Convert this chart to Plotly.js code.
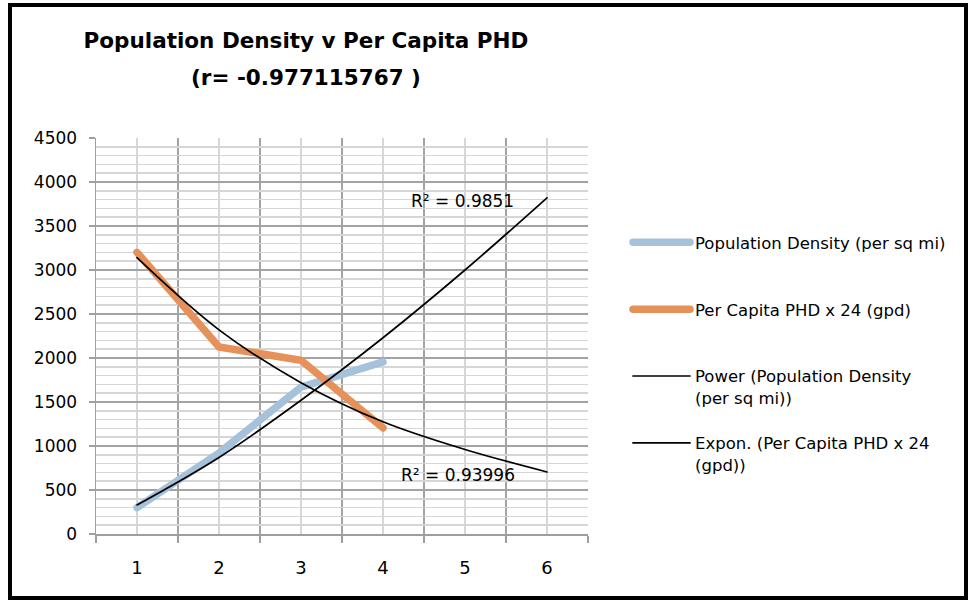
<!DOCTYPE html>
<html>
<head>
<meta charset="utf-8">
<script src="https://cdn.plot.ly/plotly-3.0.1.min.js"></script>
<style>
  html, body { margin: 0; padding: 0; background: #ffffff; }
  #chart { width: 968px; height: 600px; }
  #chart .scatterlayer .js-line, #chart .legendlines path { stroke-linecap: round; }
</style>
</head>
<body>
<div id="chart"></div>
<script>
// ---- Data ----
const categories = [1, 2, 3, 4, 5, 6];
const categoryLabels = ["1", "2", "3", "4", "5", "6"];

const popDensityX = [1, 2, 3, 4];
const popDensity = [300, 920, 1670, 1955];          // Population Density (per sq mi)

const perCapitaX = [1, 2, 3, 4];
const perCapitaPHD = [3200, 2125, 1975, 1205];      // Per Capita PHD x 24 (gpd)

const powerTrend = [330, 870, 1520, 2230, 3000, 3820];   // Power trendline as drawn
const exponTrend = [3140, 2320, 1720, 1275, 960, 705];   // Expon. trendline as drawn

const seriesNames = [
  "Population Density (per sq mi)<br> ",
  "Per Capita PHD x 24 (gpd)<br> ",
  "Power (Population Density<br>(per sq mi))",
  "Expon. (Per Capita PHD x 24<br>(gpd))"
];
const r2Labels = ["R² = 0.9851", "R² = 0.93996"];
const titleLine1 = "Population Density v Per Capita PHD";
const titleLine2 = "(r= -0.977115767 )";

const FONT = "DejaVu Sans, Verdana, sans-serif";

const traces = [
  { x: popDensityX, y: popDensity, name: seriesNames[0], legendgroup: "a",
    type: "scatter", mode: "lines",
    line: { color: "#a5c2da", width: 7.5 } },
  { x: perCapitaX, y: perCapitaPHD, name: seriesNames[1], legendgroup: "b",
    type: "scatter", mode: "lines",
    line: { color: "#e69159", width: 7.5 } },
  { x: categories, y: powerTrend, name: seriesNames[2], legendgroup: "c",
    type: "scatter", mode: "lines",
    line: { color: "#000000", width: 1.7, shape: "spline" } },
  { x: categories, y: exponTrend, name: seriesNames[3], legendgroup: "d",
    type: "scatter", mode: "lines",
    line: { color: "#000000", width: 1.7, shape: "spline" } }
];

// plot area in pixels: x 96..588, y 138..534
const layout = {
  width: 968, height: 600,
  margin: { l: 96, r: 380, t: 138, b: 66 },
  paper_bgcolor: "#ffffff", plot_bgcolor: "#ffffff",
  font: { family: FONT, size: 16, color: "#000000" },
  showlegend: true,
  title: {
    text: "<b>" + titleLine1 + "</b>",
    font: { family: FONT, size: 21.5, color: "#000000" },
    xref: "container", x: 306 / 968, xanchor: "center",
    yref: "container", y: 1 - 40 / 600, yanchor: "middle"
  },
  xaxis: {
    type: "linear",
    range: [0.5, 6.5],
    tickmode: "array", tickvals: categories, ticktext: categoryLabels,
    ticks: "",
    showgrid: true, gridcolor: "#d6d6d6", gridwidth: 1.5,
    minor: { tick0: 0.5, dtick: 1, ticks: "outside", ticklen: 7, tickcolor: "#9e9e9e", tickwidth: 1.5,
             showgrid: true, gridcolor: "#a3a3a3", gridwidth: 1.5 },
    showline: true, linecolor: "#9e9e9e", linewidth: 1.5,
    zeroline: false,
    tickfont: { family: FONT, size: 18, color: "#000000" },
    ticklabelstandoff: 17
  },
  yaxis: {
    range: [0, 4500],
    tick0: 0, dtick: 500,
    ticks: "outside", ticklen: 6, tickcolor: "#9e9e9e", tickwidth: 1.5,
    showgrid: true, gridcolor: "#a3a3a3", gridwidth: 1.5,
    minor: { dtick: 100, showgrid: true, gridcolor: "#d6d6d6", gridwidth: 1.5 },
    showline: true, linecolor: "#9e9e9e", linewidth: 1.5,
    zeroline: false,
    tickfont: { family: FONT, size: 17, color: "#000000" },
    ticklabelstandoff: 8
  },
  legend: {
    x: (628 - 96) / 492, xanchor: "left",
    y: (534 - 225) / 396, yanchor: "top",
    valign: "top",
    itemwidth: 57,
    tracegroupgap: 21,
    font: { family: FONT, size: 16.5, color: "#000000" },
    bgcolor: "rgba(0,0,0,0)", borderwidth: 0
  },
  annotations: [
    { text: "<b>" + titleLine2 + "</b>", xref: "paper", yref: "paper",
      x: (306 - 96) / 492, y: (534 - 77) / 396, xanchor: "center", yanchor: "middle",
      showarrow: false, font: { family: FONT, size: 21.5, color: "#000000" } },
    { text: r2Labels[0], xref: "x", yref: "y", x: 4.97, y: 3785,
      xanchor: "center", yanchor: "middle", showarrow: false,
      font: { family: FONT, size: 17, color: "#000000" } },
    { text: r2Labels[1], xref: "x", yref: "y", x: 4.91, y: 670,
      xanchor: "center", yanchor: "middle", showarrow: false,
      font: { family: FONT, size: 17, color: "#000000" } }
  ],
  shapes: [
    { type: "rect", xref: "paper", yref: "paper",
      x0: (10 - 96) / 492, x1: (966 - 96) / 492,
      y0: (534 - 598) / 396, y1: (534 - 5) / 396,
      line: { color: "#000000", width: 4 }, fillcolor: "rgba(0,0,0,0)", layer: "above" }
  ]
};

Plotly.newPlot("chart", traces, layout, { displayModeBar: false, staticPlot: true });
</script>
</body>
</html>
